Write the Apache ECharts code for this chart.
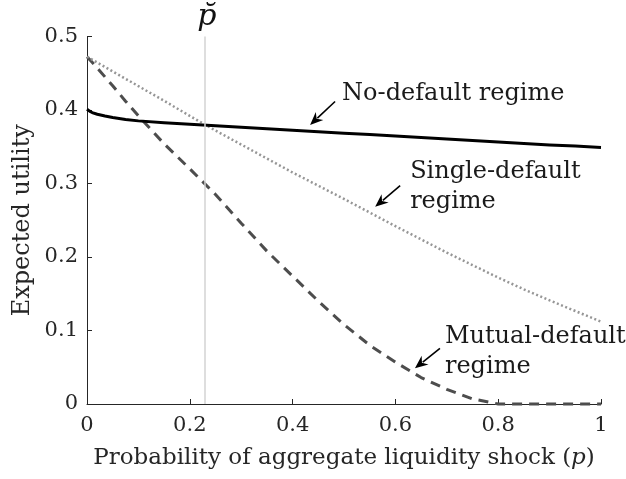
<!DOCTYPE html>
<html>
<head>
<meta charset="utf-8">
<script src="https://cdn.jsdelivr.net/npm/echarts@6/dist/echarts.min.js"></script>
<style>
  html, body { margin: 0; padding: 0; background: #fff; }
  #chart { width: 626px; height: 479px; }
</style>
</head>
<body>
<div id="chart"></div>
<script>
// ---- data ----
const pValues = [0, 0.01, 0.025, 0.05, 0.075, 0.1, 0.15, 0.2, 0.25, 0.3, 0.35, 0.4, 0.45, 0.5, 0.55, 0.6, 0.65, 0.7, 0.75, 0.8, 0.85, 0.9, 0.95, 1];
const singleDefault = [0.4725, 0.4685, 0.4625, 0.4525, 0.4425, 0.4325, 0.4125, 0.392, 0.372, 0.353, 0.334, 0.315, 0.297, 0.279, 0.2605, 0.242, 0.224, 0.206, 0.189, 0.172, 0.156, 0.141, 0.1265, 0.112];
const mutualDefault = [0.4725, 0.465, 0.453, 0.433, 0.412, 0.392, 0.354, 0.320, 0.285, 0.246, 0.208, 0.174, 0.140, 0.108, 0.080, 0.057, 0.036, 0.020, 0.007, 0.0, 0.0, 0.0, 0.0, 0.0];
const noDefaultP = [0, 0.005, 0.01, 0.02, 0.035, 0.05, 0.075, 0.1, 0.15, 0.2, 0.25, 0.3, 0.35, 0.4, 0.45, 0.5, 0.55, 0.6, 0.65, 0.7, 0.75, 0.8, 0.85, 0.9, 0.95, 1];
const noDefault = [0.401, 0.3985, 0.3965, 0.3942, 0.3918, 0.3898, 0.3872, 0.3852, 0.3827, 0.3805, 0.3785, 0.3765, 0.3745, 0.3725, 0.3705, 0.3685, 0.3665, 0.3645, 0.3625, 0.3605, 0.3585, 0.3565, 0.3545, 0.3525, 0.351, 0.349];
const pCheck = 0.233;          // p-breve threshold
const xTickMin = 0, xTickMax = 1, xTickStep = 0.2;
const yTickMin = 0, yTickMax = 0.5, yTickStep = 0.1;
const seriesNames = ['Mutual-default regime', 'Single-default regime', 'No-default regime'];

// annotation anchors (arrow tips) in data coordinates
const annotationTexts = [['No-default regime'], ['Single-default', 'regime'], ['Mutual-default', 'regime']];
const annotationTips = [[0.434, 0.3796], [0.5606, 0.2684], [0.638, 0.0486]];

// ---- layout / style (not data) ----
const annLayout = [
  { tail: [25, -23.5], text: [32, -23], lineGap: 30 },
  { tail: [25, -21],   text: [35, -26.7], lineGap: 30 },
  { tail: [25, -20],   text: [30, -23.3], lineGap: 30 }
];
const SERIF = '"DejaVu Serif", "Liberation Serif", serif';
const AXIS_COLOR = '#262626';

const zip = (xs, ys) => xs.map((x, i) => [x, ys[i]]);

const chart = echarts.init(document.getElementById('chart'), null, { renderer: 'canvas' });

const option = {
  animation: false,
  backgroundColor: '#ffffff',
  grid: { left: 87, right: 25, top: 36.5, bottom: 75, containLabel: false },
  xAxis: {
    type: 'value', min: xTickMin, max: xTickMax, interval: xTickStep,
    name: 'Probability of aggregate liquidity shock ({i|p})',
    nameLocation: 'middle', nameGap: 43, nameMoveOverlap: false,
    nameTextStyle: {
      fontFamily: SERIF, fontSize: 23, color: AXIS_COLOR, verticalAlign: 'top',
      rich: { i: { fontFamily: SERIF, fontSize: 23, fontStyle: 'italic', color: AXIS_COLOR } }
    },
    axisLine: { show: true, onZero: false, lineStyle: { color: AXIS_COLOR, width: 1 } },
    axisTick: { show: true, inside: true, length: 5, lineStyle: { color: AXIS_COLOR, width: 1 } },
    axisLabel: { fontFamily: SERIF, fontSize: 21, color: AXIS_COLOR, margin: 11 },
    splitLine: { show: false }
  },
  yAxis: {
    type: 'value', min: yTickMin, max: yTickMax, interval: yTickStep,
    name: 'Expected utility', nameLocation: 'middle', nameGap: 52, nameMoveOverlap: false,
    nameTextStyle: { fontFamily: SERIF, fontSize: 24, color: AXIS_COLOR },
    axisLine: { show: true, onZero: false, lineStyle: { color: AXIS_COLOR, width: 1 } },
    axisTick: { show: true, inside: true, length: 5, lineStyle: { color: AXIS_COLOR, width: 1 } },
    axisLabel: { fontFamily: SERIF, fontSize: 21, color: AXIS_COLOR, margin: 9 },
    splitLine: { show: false }
  },
  series: [
    {
      name: 'threshold', type: 'line', data: [], silent: true,
      markLine: {
        silent: true, symbol: 'none', animation: false,
        lineStyle: { color: '#d3d3d3', width: 1.5, type: 'solid' },
        label: { show: false },
        data: [{ xAxis: pCheck }]
      }
    },
    {
      name: seriesNames[0], type: 'line', data: zip(pValues, mutualDefault),
      showSymbol: false, symbol: 'none', smooth: false, clip: false,
      lineStyle: { color: '#4d4d4d', width: 3, type: [10, 7], cap: 'butt' }
    },
    {
      name: seriesNames[1], type: 'line', data: zip(pValues, singleDefault),
      showSymbol: false, symbol: 'none', smooth: false,
      lineStyle: { color: '#969696', width: 2.5, type: [2, 2.5], cap: 'butt' }
    },
    {
      name: seriesNames[2], type: 'line', data: zip(noDefaultP, noDefault),
      showSymbol: false, symbol: 'none', smooth: false,
      lineStyle: { color: '#000000', width: 3, type: 'solid', join: 'round' }
    }
  ]
};
chart.setOption(option);

function buildGraphics() {
  const g = [];
  const annFont = 24;
  const midShift = 0.346 * annFont;
  annotationTips.forEach((tipData, k) => {
    const tip = chart.convertToPixel({ gridIndex: 0 }, tipData);
    const L = annLayout[k];
    const tail = [tip[0] + L.tail[0], tip[1] + L.tail[1]];
    const dx = tip[0] - tail[0], dy = tip[1] - tail[1];
    const len = Math.hypot(dx, dy);
    const ux = dx / len, uy = dy / len;
    const nx = -uy, ny = ux;
    const hl = 13, hw = 5.5;
    const base = [tip[0] - ux * hl, tip[1] - uy * hl];
    g.push({
      type: 'line', silent: true,
      shape: { x1: tail[0], y1: tail[1], x2: base[0] + ux * 3, y2: base[1] + uy * 3 },
      style: { stroke: '#000', lineWidth: 1.6 }
    });
    g.push({
      type: 'polygon', silent: true,
      shape: { points: [tip, [base[0] + nx * hw, base[1] + ny * hw], [tip[0] - ux * (hl - 4), tip[1] - uy * (hl - 4)], [base[0] - nx * hw, base[1] - ny * hw]] },
      style: { fill: '#000' }
    });
    annotationTexts[k].forEach((line, j) => {
      g.push({
        type: 'text', silent: true,
        style: {
          text: line,
          x: tip[0] + L.text[0],
          y: tip[1] + L.text[1] + j * L.lineGap - midShift,
          font: annFont + 'px ' + SERIF,
          fill: '#1a1a1a',
          align: 'left', verticalAlign: 'middle'
        }
      });
    });
  });
  // p-breve label above the threshold line
  const top = chart.convertToPixel({ gridIndex: 0 }, [pCheck, yTickMax]);
  const pf = 30;
  g.push({
    type: 'text', silent: true,
    style: {
      text: 'p\u0306',
      x: top[0], y: top[1] - 8.5 - 0.346 * pf,
      font: 'italic ' + pf + 'px ' + SERIF,
      fill: '#111',
      align: 'center', verticalAlign: 'middle'
    }
  });
  chart.setOption({ graphic: g });
}
buildGraphics();
</script>
</body>
</html>
